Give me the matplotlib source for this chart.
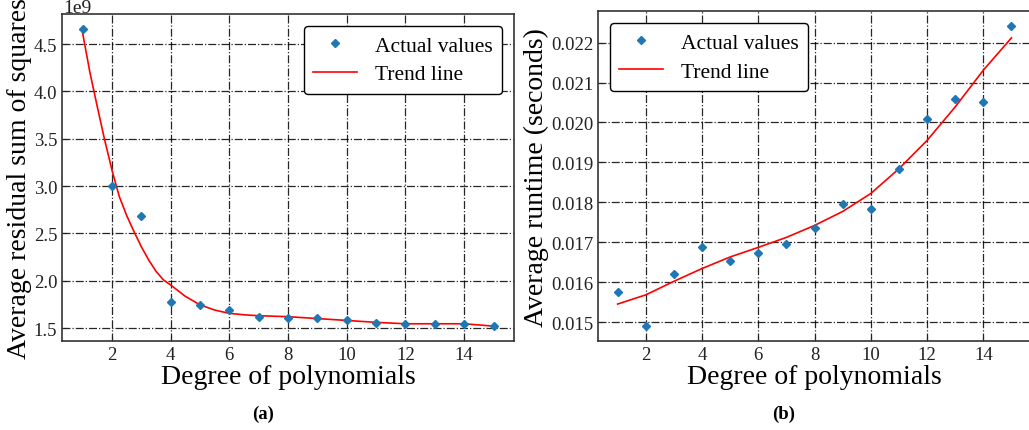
import matplotlib
matplotlib.use("Agg")
import matplotlib.pyplot as plt
import matplotlib.ticker as mticker

# Data
DEGREES = list(range(1, 16))

RSS_ACTUAL = [4.662e9, 3.00e9, 2.684e9, 1.775e9, 1.740e9, 1.694e9, 1.613e9,
              1.610e9, 1.603e9, 1.585e9, 1.557e9, 1.546e9, 1.539e9, 1.539e9,
              1.521e9]
RSS_TREND_X = [1, 1.25, 1.5, 1.75, 2, 2.25, 2.5, 2.75, 3, 3.25, 3.5, 3.75,
               4, 4.5, 5, 5.5, 6, 6.5, 7, 8, 9, 10, 11, 12, 13, 14, 15]
RSS_TREND = [4.62e9, 4.20e9, 3.84e9, 3.49e9, 3.17e9, 2.89e9, 2.69e9,
             2.52e9, 2.36e9, 2.22e9, 2.10e9, 2.01e9, 1.955e9, 1.835e9,
             1.745e9, 1.69e9, 1.655e9, 1.64e9, 1.63e9, 1.62e9, 1.60e9,
             1.58e9, 1.56e9, 1.545e9, 1.545e9, 1.545e9, 1.52e9]

RUNTIME_ACTUAL = [0.01575, 0.01490, 0.01620, 0.01689, 0.01653, 0.01672,
                  0.01695, 0.01736, 0.01795, 0.01782, 0.01884, 0.02008,
                  0.02058, 0.02052, 0.02241]
RUNTIME_TREND = [0.01545, 0.01568, 0.01602, 0.01634, 0.01663, 0.01687,
                 0.01712, 0.01742, 0.01777, 0.01822, 0.01884, 0.01955,
                 0.02039, 0.02131, 0.02212]

plt.rcParams["font.family"] = ["Liberation Serif", "DejaVu Serif"]

fig = plt.figure(figsize=(10.29, 4.31), dpi=100)
ax_a = fig.add_axes([0.0603, 0.2065, 0.4393, 0.7587])
ax_b = fig.add_axes([0.5811, 0.2065, 0.4210, 0.7650])


def style(ax, ylabel):
    ax.grid(True, color="black", linestyle="-.", linewidth=0.9, alpha=0.85)
    ax.set_axisbelow(True)
    ax.tick_params(direction="in", labelsize=13.5, colors="#222222")
    for s in ax.spines.values():
        s.set_color("#333333")
        s.set_linewidth(1.2)
    ax.set_xlabel("Degree of polynomials", fontsize=20, labelpad=1)
    ax.set_ylabel(ylabel, fontsize=20, labelpad=1)
    ax.set_xticks([2, 4, 6, 8, 10, 12, 14])


def add_legend(ax, loc):
    ax.legend(loc=loc, fontsize=15.5, edgecolor="black", framealpha=1,
              handlelength=2.0, borderpad=0.45, labelspacing=0.4,
              handletextpad=0.85, borderaxespad=0.55)


# (a) residual sum of squares
ax_a.plot(DEGREES, RSS_ACTUAL, "D", color="#1f77b4", markersize=4.3,
          label="Actual values", zorder=3)
ax_a.plot(RSS_TREND_X, RSS_TREND, color="red", linewidth=1.2,
          label="Trend line", zorder=2)
style(ax_a, "Average residual sum of squares")
ax_a.yaxis.set_major_locator(mticker.MultipleLocator(0.5e9))
ax_a.yaxis.get_offset_text().set_visible(False)
fig.text(63 / 1029, 1 - 13 / 431, "1e9", ha="left", va="baseline",
         fontsize=14, color="#222222")
add_legend(ax_a, "upper right")

# (b) runtime
ax_b.plot(DEGREES, RUNTIME_ACTUAL, "D", color="#1f77b4", markersize=4.3,
          label="Actual values", zorder=3)
ax_b.plot(DEGREES, RUNTIME_TREND, color="red", linewidth=1.2,
          label="Trend line", zorder=2)
style(ax_b, "Average runtime (seconds)")
ax_b.yaxis.set_major_locator(mticker.MultipleLocator(0.001))
ax_b.yaxis.set_major_formatter(mticker.FormatStrFormatter("%.3f"))
add_legend(ax_b, "upper left")

fig.text(263 / 1029, 1 - 414 / 431, "(a)", ha="center", va="center",
         fontsize=13.5, fontweight="bold")
fig.text(784 / 1029, 1 - 414 / 431, "(b)", ha="center", va="center",
         fontsize=13.5, fontweight="bold")

fig.savefig("out.png", dpi=100, facecolor="white")
plt.close(fig)
